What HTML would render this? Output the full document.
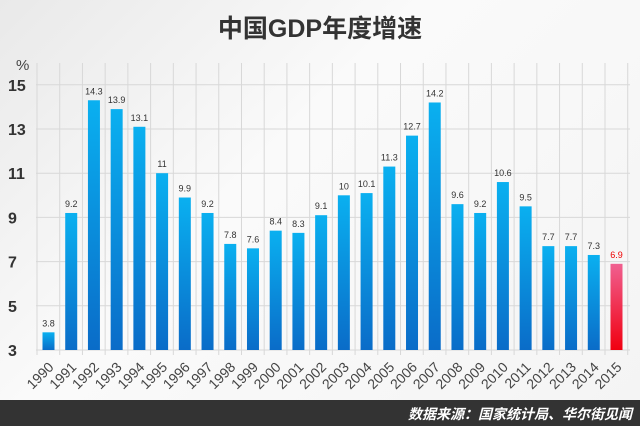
<!DOCTYPE html><html><head><meta charset="utf-8"><style>
body{margin:0;width:640px;height:426px;overflow:hidden;background:linear-gradient(135deg,#e9e9e9,#fafafa 40%,#f4f4f4);font-family:"Liberation Sans","Noto Sans CJK SC",sans-serif}
</style></head><body>
<svg width="640" height="426" xmlns="http://www.w3.org/2000/svg" style="position:absolute;left:0;top:0">
<defs>
<linearGradient id="b" x1="0" y1="0" x2="0" y2="1"><stop offset="0" stop-color="#0ab0f0"/><stop offset="1" stop-color="#0a6cc8"/></linearGradient>
<linearGradient id="r" x1="0" y1="0" x2="0" y2="1"><stop offset="0" stop-color="#f06090"/><stop offset="1" stop-color="#f00010"/></linearGradient>
</defs>
<text x="320" y="37" text-anchor="middle" font-size="25" font-weight="bold" fill="#333" font-family="Liberation Sans,Noto Sans CJK SC,sans-serif">中国GDP年度增速</text>
<text x="16" y="70" font-size="15" fill="#444">%</text>
<g id="grid" stroke="#d8d8d8" stroke-width="1"></g>
<g id="bars"></g>
</svg>
<div style="position:absolute;left:0;top:400px;width:640px;height:26px;background:#333"></div>
<div style="position:absolute;right:8px;top:404px;color:#fff;font-size:14px;font-style:italic;font-weight:bold">数据来源：国家统计局、华尔街见闻</div>
<script>
var d=[3.8,9.2,14.3,13.9,13.1,11,9.9,9.2,7.8,7.6,8.4,8.3,9.1,10,10.1,11.3,12.7,14.2,9.6,9.2,10.6,9.5,7.7,7.7,7.3,6.9];
var s='',g='',ns='http://www.w3.org/2000/svg';
function Y(v){return 350-(v-3)*22.1;}
for(var v=3;v<=15;v+=2){g+='<line x1="36" x2="630" y1="'+Y(v)+'" y2="'+Y(v)+'"/>';s+='<text x="8" y="'+(Y(v)+6)+'" font-size="16" font-weight="bold" fill="#333">'+v+'</text>';}
for(var i=0;i<=26;i++){var x=37+i*22.72;g+='<line x1="'+x+'" x2="'+x+'" y1="63" y2="355"/>';}
for(var i=0;i<26;i++){var c=48.5+i*22.72,y=Y(d[i]);
s+='<rect x="'+(c-6)+'" y="'+y+'" width="12" height="'+(350-y)+'" fill="url(#'+(i==25?'r':'b')+')"/>';
s+='<text x="'+c+'" y="'+(y-6)+'" text-anchor="middle" font-size="9" fill="'+(i==25?'#e00':'#333')+'">'+d[i]+'</text>';
s+='<text transform="translate('+(c+6)+',368) rotate(-45)" text-anchor="end" font-size="14" fill="#444">'+(1990+i)+'</text>';}
document.getElementById('grid').innerHTML=g;document.getElementById('bars').innerHTML=s;
</script>
</body></html>
